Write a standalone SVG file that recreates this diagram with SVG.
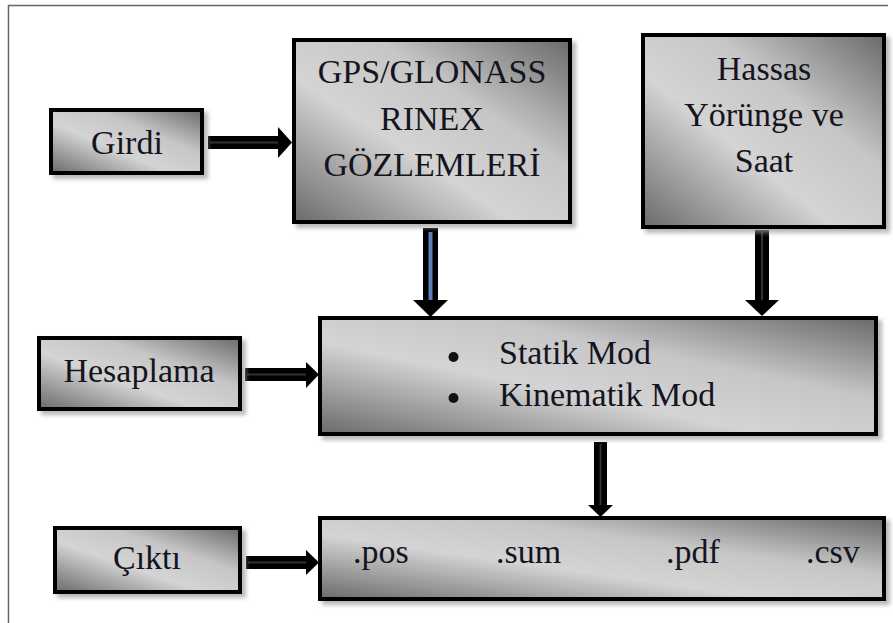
<svg xmlns="http://www.w3.org/2000/svg" width="893" height="623" viewBox="0 0 893 623">
<defs>
<linearGradient id="g" x1="1" y1="0" x2="0" y2="1">
<stop offset="0" stop-color="#6a6a6a"/>
<stop offset="0.35" stop-color="#c6c6c6"/>
<stop offset="0.6" stop-color="#d4d4d4"/>
<stop offset="1" stop-color="#6a6a6a"/>
</linearGradient>
<filter id="sh" x="-10%" y="-10%" width="130%" height="130%">
<feDropShadow dx="4" dy="4" stdDeviation="2" flood-color="#999" flood-opacity="0.7"/>
</filter>
</defs>
<style>
.box{fill:url(#g);stroke:#000;stroke-width:4;filter:url(#sh)}
.t{font-family:"Liberation Serif","Times New Roman",serif;font-size:34px;fill:#141420}
.c{text-anchor:middle}
.shaft{fill:#000}
.inner{stroke:#333;stroke-width:2}
.blue{stroke:#5a7fb8;stroke-width:4}
.head{fill:#000}
</style>
<rect x="0" y="0" width="893" height="623" fill="#fff"/>
<path d="M8.5 623 V5.5 H888" fill="none" stroke="#666" stroke-width="1.5"/>

<g id="connectors">
<!-- Girdi -> GPS -->
<rect class="shaft" x="208" y="136" width="72" height="13"/>
<line class="inner" x1="210" y1="142.5" x2="280" y2="142.5"/>
<polygon class="head" points="278,127 292,142.5 278,158"/>
<!-- GPS -> calc -->
<rect class="shaft" x="423" y="228" width="15" height="76"/>
<line class="blue" x1="430.5" y1="232" x2="430.5" y2="304"/>
<polygon class="head" points="413,300 448,300 430.5,317"/>
<!-- Hassas -> calc -->
<rect class="shaft" x="755" y="230" width="14" height="74"/>
<line class="inner" x1="762" y1="232" x2="762" y2="304"/>
<polygon class="head" points="745,300 779,300 762,316"/>
<!-- Hesaplama -> calc -->
<rect class="shaft" x="245" y="368" width="64" height="13"/>
<line class="inner" x1="247" y1="374.5" x2="309" y2="374.5"/>
<polygon class="head" points="306,362 319,374.5 306,388"/>
<!-- calc -> output -->
<rect class="shaft" x="594" y="442" width="13" height="66"/>
<line class="inner" x1="600.5" y1="444" x2="600.5" y2="508"/>
<polygon class="head" points="588,505 613,505 600.5,517"/>
<!-- Cikti -> output -->
<rect class="shaft" x="246" y="556" width="63" height="13"/>
<line class="inner" x1="248" y1="562.5" x2="309" y2="562.5"/>
<polygon class="head" points="306,550 319,562.5 306,575"/>
</g>

<g id="girdi">
<rect class="box" x="51" y="110" width="151" height="63"/>
<text class="t c" x="127" y="154">Girdi</text>
</g>

<g id="gps">
<rect class="box" x="294" y="40" width="276" height="182"/>
<text class="t c" x="432" y="83">GPS/GLONASS</text>
<text class="t c" x="432" y="130">RINEX</text>
<text class="t c" x="432" y="176">GÖZLEMLERİ</text>
</g>

<g id="hassas">
<rect class="box" x="643" y="35" width="241" height="192"/>
<text class="t c" x="764" y="80">Hassas</text>
<text class="t c" x="764" y="126">Yörünge ve</text>
<text class="t c" x="764" y="172">Saat</text>
</g>

<g id="hesaplama">
<rect class="box" x="39" y="338" width="201" height="71"/>
<text class="t c" x="139" y="382">Hesaplama</text>
</g>

<g id="calc">
<rect class="box" x="320" y="318" width="556" height="116"/>
<circle cx="453.5" cy="357" r="5" fill="#111"/>
<circle cx="453.5" cy="398" r="5" fill="#111"/>
<text class="t" x="499" y="364">Statik Mod</text>
<text class="t" x="499" y="406">Kinematik Mod</text>
</g>

<g id="cikti">
<rect class="box" x="55" y="528" width="185" height="64"/>
<text class="t c" x="147" y="569">Çıktı</text>
</g>

<g id="output">
<rect class="box" x="320" y="518" width="564" height="81"/>
<text class="t" x="353" y="563">.pos</text>
<text class="t" x="496" y="563">.sum</text>
<text class="t" x="666" y="563">.pdf</text>
<text class="t" x="806" y="563">.csv</text>
</g>
</svg>
